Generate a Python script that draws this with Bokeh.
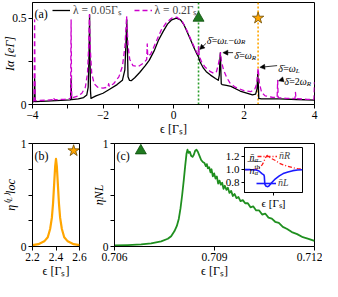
import math
from bokeh.plotting import figure
from bokeh.models import (FixedTicker, Label, Legend, LegendItem, Span, Arrow,
                          NormalHead, GridBox)
from bokeh.embed import file_html
from bokeh.resources import INLINE

FONT = "Liberation Serif"

# ---------------- panel (a): current I_alpha vs epsilon ----------------
eps_black = [-4.00, -3.955, -3.94, -3.925, -3.6, -3.2, -2.92, -2.905, -2.89, -2.7,
             -2.55, -2.46, -2.42, -2.395, -2.38, -2.37, -2.355, -2.34, -2.3, -2.2,
             -2.0, -1.8, -1.6, -1.45, -1.38, -1.34, -1.325, -1.31, -1.29, -1.25,
             -1.2, -1.1, -0.96, -0.8, -0.69, -0.55, -0.43, -0.3, -0.17, -0.05,
             0.08, 0.2, 0.3, 0.45, 0.6, 0.67, 0.71, 0.755, 0.85, 0.93,
             1.05, 1.19, 1.27, 1.30, 1.315, 1.33, 1.34, 1.355, 1.38, 1.5,
             1.63, 1.89, 2.1, 2.24, 2.33, 2.37, 2.39, 2.405, 2.42, 2.49,
             2.7, 3.0, 3.5, 4.0]
I_black = [0.015, 0.017, 0.15, 0.017, 0.02, 0.024, 0.027, 0.15, 0.028, 0.032,
           0.04, 0.055, 0.1, 0.3, 0.52, 0.3, 0.08, 0.035, 0.04, 0.05,
           0.065, 0.09, 0.115, 0.14, 0.2, 0.4, 0.49, 0.35, 0.16, 0.14,
           0.138, 0.155, 0.185, 0.225, 0.255, 0.31, 0.37, 0.42, 0.465, 0.49,
           0.50, 0.49, 0.46, 0.39, 0.32, 0.29, 0.275, 0.246, 0.21, 0.19,
           0.17, 0.15, 0.14, 0.17, 0.25, 0.30, 0.22, 0.12, 0.115, 0.11,
           0.105, 0.078, 0.065, 0.056, 0.06, 0.09, 0.175, 0.12, 0.035, 0.032,
           0.033, 0.032, 0.029, 0.025]

eps_mag = [-4.00, -3.955, -3.94, -3.925, -3.6, -3.42, -3.4, -3.38, -3.1, -2.92,
           -2.905, -2.89, -2.7, -2.6, -2.5, -2.44, -2.41, -2.385, -2.36, -2.32,
           -2.25, -2.15, -2.0, -1.86, -1.84, -1.82, -1.7, -1.55, -1.45, -1.38,
           -1.33, -1.29, -1.24, -1.15, -1.0, -0.85, -0.76, -0.745, -0.73, -0.65,
           -0.5, -0.35, -0.2, -0.05, 0.1, 0.25, 0.4, 0.55, 0.65, 0.70,
           0.715, 0.73, 0.8, 0.9, 1.05, 1.15, 1.22, 1.27, 1.31, 1.335,
           1.36, 1.42, 1.5, 1.6, 1.75, 2.0, 2.2, 2.3, 2.36, 2.4,
           2.44, 2.5, 2.6, 2.8, 2.94, 2.955, 2.97, 3.2, 3.445, 3.46,
           3.475, 3.8, 3.985, 4.0]
I_mag = [0.02, 0.022, 0.49, 0.022, 0.025, 0.028, 0.04, 0.028, 0.03, 0.035,
         0.49, 0.038, 0.05, 0.065, 0.1, 0.18, 0.32, 0.52, 0.32, 0.18,
         0.12, 0.1, 0.095, 0.1, 0.12, 0.105, 0.12, 0.16, 0.22, 0.33,
         0.51, 0.34, 0.26, 0.225, 0.22, 0.24, 0.26, 0.35, 0.28, 0.29,
         0.36, 0.43, 0.475, 0.50, 0.505, 0.48, 0.42, 0.35, 0.305, 0.29,
         0.335, 0.28, 0.245, 0.215, 0.19, 0.18, 0.19, 0.23, 0.27, 0.30,
         0.25, 0.2, 0.16, 0.125, 0.1, 0.08, 0.075, 0.085, 0.12, 0.21,
         0.12, 0.07, 0.05, 0.042, 0.04, 0.14, 0.04, 0.036, 0.034, 0.07,
         0.034, 0.03, 0.03, 0.13]

tri_eps = [0.71]
tri_I = [0.5]
star_eps = [2.4]
star_I = [0.5]
vline_green = 0.71
vline_orange = 2.4

# annotation arrows (start -> end, in data units) and text anchors
arr_x0 = [0.92, 1.69, 2.94, 3.11]
arr_y0 = [0.353, 0.30, 0.225, 0.145]
arr_x1 = [0.74, 1.40, 2.45, 2.98]
arr_y1 = [0.318, 0.30, 0.215, 0.137]
txt_x = [0.94, 1.72, 2.97, 3.14]
txt_y = [0.39, 0.30, 0.225, 0.15]

xt_a = [-4, -2, 0, 2, 4]
xminor_a = [-3, -1, 1, 3]
xlab_a = ["−4", "−2", "0", "2", "4"]
yt_a = [0, 0.5]
yminor_a = [0.25]
ylab_a = ["0", "0.5"]

# ---------------- panel (b): eta_loc^(L) ----------------
eps_b = [2.20, 2.25, 2.30, 2.33, 2.35, 2.365, 2.375, 2.385, 2.393, 2.40,
         2.407, 2.415, 2.425, 2.435, 2.45, 2.47, 2.50, 2.55, 2.60]
eta_b = [0.013, 0.023, 0.05, 0.09, 0.17, 0.28, 0.42, 0.62, 0.78, 0.85,
         0.78, 0.62, 0.42, 0.28, 0.17, 0.09, 0.05, 0.023, 0.013]
star_b_eps = [2.55]
star_b_eta = [0.93]
xt_b = [2.2, 2.4, 2.6]
xlab_b = ["2.2", "2.4", "2.6"]
yt_b = [0, 1]
yminor_b = [0.25, 0.5, 0.75]
ylab_b = ["0", "1"]

# ---------------- panel (c): eta_NL ----------------
eps_c = [0.7060, 0.7064, 0.7068, 0.7071, 0.7074, 0.7076, 0.7077, 0.7078, 0.70787, 0.70793,
         0.70798, 0.70803, 0.70808, 0.70812, 0.70816, 0.70819, 0.70822, 0.70826, 0.70830, 0.70834,
         0.70838, 0.70842, 0.70846, 0.70850, 0.70855, 0.70860, 0.70865, 0.70870, 0.70874, 0.70877,
         0.70880, 0.70884, 0.70888, 0.70891, 0.70895, 0.70899, 0.70903, 0.70907, 0.70911, 0.70915,
         0.70919, 0.70923, 0.70927, 0.70931, 0.70936, 0.70940, 0.70945, 0.70950, 0.70955, 0.70960,
         0.70966, 0.70972, 0.70978, 0.70985, 0.70992, 0.71000, 0.71008, 0.71016, 0.71025, 0.71034,
         0.71043, 0.71052, 0.71062, 0.71072, 0.71082, 0.71093, 0.71105, 0.71118, 0.71132, 0.71148,
         0.71165, 0.71182, 0.71200]
eta_c = [0.010, 0.014, 0.020, 0.030, 0.050, 0.075, 0.10, 0.15, 0.20, 0.27,
         0.37, 0.50, 0.65, 0.78, 0.90, 0.94, 0.91, 0.92, 0.88, 0.87,
         0.89, 0.93, 0.94, 0.92, 0.88, 0.84, 0.82, 0.81, 0.78, 0.80,
         0.76, 0.77, 0.72, 0.75, 0.68, 0.71, 0.66, 0.68, 0.61, 0.64,
         0.60, 0.62, 0.56, 0.59, 0.55, 0.57, 0.52, 0.54, 0.49, 0.51,
         0.47, 0.48, 0.44, 0.45, 0.42, 0.42, 0.38, 0.39, 0.35, 0.35,
         0.31, 0.32, 0.28, 0.27, 0.24, 0.23, 0.19, 0.17, 0.14, 0.12,
         0.09, 0.075, 0.055]
tri_c_eps = [0.70679]
tri_c_eta = [0.93]
xt_c = [0.706, 0.709, 0.712]
xlab_c = ["0.706", "0.709", "0.712"]
yt_c = [0, 1]
yminor_c = [0.25, 0.5, 0.75]
ylab_c = ["0", "1"]

# ---------------- inset: occupation ratios ----------------
eps_in = [0.7060, 0.7066, 0.7072, 0.7075, 0.7078, 0.7080, 0.70805, 0.7081, 0.7082, 0.70835,
          0.7085, 0.7088, 0.7092, 0.7096, 0.7100, 0.7105, 0.7110, 0.7115, 0.7120]
nR = [1.0, 1.0, 1.005, 1.02, 1.07, 1.12, 1.14, 1.16, 1.19, 1.22,
      1.2, 1.17, 1.14, 1.1, 1.075, 1.05, 1.03, 1.015, 1.01]
nL = [1.0, 1.0, 0.995, 0.98, 0.94, 0.92, 0.90, 0.78, 0.75, 0.74,
      0.745, 0.80, 0.86, 0.905, 0.94, 0.965, 0.985, 0.995, 1.0]
xt_in = [0.709]
yt_in = [0.8, 1.0, 1.2]
ylab_in = ["0.8", "1.0", "1.2"]

# axis titles
XTITLE = "ϵ [Γₛ]"
YTITLE_A = "Iα [eΓ]"
YTITLE_B = "η⁽ᴸ⁾loc"
YTITLE_C = "ηNL"

# ---------------- helpers ----------------
CW = {' ': 0.25, '[': 0.333, ']': 0.333, '(': 0.333, ')': 0.333, '.': 0.25,
      '=': 0.564, '−': 0.564, 'Γ': 0.6, 'S': 0.556, 'L': 0.611, 'R': 0.667,
      'N': 0.722, 'I': 0.333, 'e': 0.444, 'n': 0.5, 'l': 0.278, 'o': 0.5,
      'c': 0.444, 't': 0.278, 'h': 0.5, 'α': 0.55, 'δ': 0.5, 'ω': 0.69,
      'η': 0.5, 'ϵ': 0.44, '\u0304': 0.0}


def tw(s, fs):
    return sum(CW.get(ch, 0.5) for ch in s) * fs


def rich(p, x, y, pieces, fs, dx=0.0, dy=0.0):
    cur = 0.0
    for t, k, st, adv in pieces:
        f = fs if k == "n" else fs * 0.7
        shift = {"n": 0.0, "b": -0.22 * fs, "p": 0.4 * fs}[k]
        p.add_layout(Label(x=x, y=y, x_offset=dx + cur, y_offset=dy + shift, text=t,
                           text_font=FONT, text_font_size=f"{f:.1f}px",
                           text_font_style=st, text_color="black",
                           text_baseline="alphabetic", text_align="left"))
        if adv:
            cur += tw(t, f)


def style(p, xt, xmin, xlab, yt, ymin, ylab, fs="11.5px"):
    p.xaxis.ticker = FixedTicker(ticks=xt, minor_ticks=xmin)
    p.yaxis.ticker = FixedTicker(ticks=yt, minor_ticks=ymin)
    p.xaxis.major_label_overrides = dict(zip(xt, xlab))
    p.yaxis.major_label_overrides = dict(zip(yt, ylab))
    for ax in (p.xaxis[0], p.yaxis[0]):
        ax.major_tick_out = 4
        ax.major_tick_in = 0
        ax.minor_tick_out = 4
        ax.minor_tick_in = 0
        ax.major_label_text_font = FONT
        ax.major_label_text_font_size = fs
        ax.major_label_text_color = "black"
        ax.major_label_standoff = 2
        ax.axis_line_color = "black"
        ax.major_tick_line_color = "black"
        ax.minor_tick_line_color = "black"
        ax.axis_label_text_font = FONT
        ax.axis_label_text_font_size = "12px"
        ax.axis_label_text_font_style = "normal"
        ax.axis_label_text_color = "black"
        ax.axis_label_standoff = 0
    p.xgrid.visible = False
    p.ygrid.visible = False
    p.outline_line_color = "black"
    p.outline_line_alpha = 1.0
    p.outline_line_width = 1
    p.background_fill_color = "white"
    p.border_fill_color = None


def make_fig(w, h, xr, yr, left, right, top, bottom):
    p = figure(width=w, height=h, x_range=xr, y_range=yr,
               output_backend="svg", toolbar_location=None)
    p.min_border_left = left
    p.min_border_right = right
    p.min_border_top = top
    p.min_border_bottom = bottom
    return p


GREEN = "#1f8f1f"
ORANGE = "#FFA500"
MAGENTA = "#CC00CC"

# ---------------- layout geometry ----------------
W_ALL = 322
HA, TA, BA, LA, RA = 139, 2, 35, 27, 5
FA_H = HA - TA - BA
HB, TB, BB = 142, 4, 35
WB, LB, RB = 88, 27, 9
WC, LC, RC = 234, 20, 8
IN_W, IN_H, IN_L, IN_R, IN_T, IN_B = 92, 84, 24, 1, 1, 19
IN_DX, IN_DY = 130, 4

# ---------------- panel (a) ----------------
pa = make_fig(W_ALL, HA, (-4, 4), (0, 0.59), LA, RA, TA, BA)
style(pa, xt_a, xminor_a, xlab_a, yt_a, yminor_a, ylab_a)
pa.xaxis.axis_label = XTITLE
pa.yaxis.axis_label = YTITLE_A
pa.yaxis.axis_label_text_font_style = "italic"
pa.yaxis.axis_label_standoff = -8
pa.add_layout(Span(location=vline_green, dimension="height", line_color="#2a9d2a",
                   line_dash="2 2", line_width=1.6, level="underlay"))
pa.add_layout(Span(location=vline_orange, dimension="height", line_color=ORANGE,
                   line_dash="2 2", line_width=1.6, level="underlay"))
r_black = pa.line(eps_black, I_black, line_color="black", line_width=1.3, line_join="round")
r_mag = pa.line(eps_mag, I_mag, line_color=MAGENTA, line_width=1.3, line_dash="5 3",
                line_join="round")
pa.scatter(tri_eps, tri_I, marker="triangle", size=11, fill_color="#1f7a1f",
           line_color="#0d4d0d", line_width=0.8)
pa.scatter(star_eps, star_I, marker="star", size=12, fill_color=ORANGE,
           line_color="#6b4a00", line_width=0.8)
leg = Legend(items=[LegendItem(label="λ = 0.05Γₛ", renderers=[r_black]),
                    LegendItem(label="λ = 0.2Γₛ", renderers=[r_mag])],
             orientation="horizontal", location=(20, FA_H - 15),
             glyph_width=18, glyph_height=12, label_standoff=3, spacing=12,
             padding=0, margin=0, border_line_alpha=0, background_fill_alpha=0,
             label_text_font=FONT, label_text_font_size="11.5px", label_height=12)
pa.add_layout(leg)
rich(pa, -4, 0.59, [("(a)", "n", "normal", True)], 12, dx=2, dy=-11)

ann_pieces = [
    [("δ̄", "n", "italic", True), ("=", "n", "normal", True), ("ω", "n", "italic", True),
     ("L", "b", "italic", True), ("−", "n", "normal", True), ("ω", "n", "italic", True),
     ("R", "b", "italic", True)],
    [("δ̄", "n", "italic", True), ("=", "n", "normal", True), ("ω", "n", "italic", True),
     ("R", "b", "italic", True)],
    [("δ̄", "n", "italic", True), ("=", "n", "normal", True), ("ω", "n", "italic", True),
     ("L", "b", "italic", True)],
    [("δ̄", "n", "italic", True), ("=2", "n", "normal", True), ("ω", "n", "italic", True),
     ("R", "b", "italic", True)],
]
for i in range(4):
    pa.add_layout(Arrow(x_start=arr_x0[i], y_start=arr_y0[i], x_end=arr_x1[i], y_end=arr_y1[i],
                        line_color="black", line_width=0.8,
                        end=NormalHead(size=5, fill_color="black", line_color="black",
                                       line_width=0.5)))
    rich(pa, txt_x[i], txt_y[i], ann_pieces[i], 10, dy=-3)

# ---------------- panel (b) ----------------
pb = make_fig(WB, HB, (2.2, 2.6), (0, 1), LB, RB, TB, BB)
style(pb, xt_b, [], xlab_b, yt_b, yminor_b, ylab_b)
pb.xaxis.axis_label = XTITLE
pb.yaxis.axis_label = YTITLE_B
pb.yaxis.axis_label_text_font_style = "italic"
pb.line(eps_b, eta_b, line_color=ORANGE, line_width=2.2, line_join="round")
pb.scatter(star_b_eps, star_b_eta, marker="star", size=12, fill_color=ORANGE,
           line_color="#6b4a00", line_width=0.8)
rich(pb, 2.2, 1, [("(b)", "n", "normal", True)], 12, dx=2, dy=-12)

# ---------------- panel (c) ----------------
pc = make_fig(WC, HB, (0.706, 0.712), (0, 1), LC, RC, TB, BB)
style(pc, xt_c, [], xlab_c, yt_c, yminor_c, ylab_c)
pc.xaxis.axis_label = XTITLE
pc.yaxis.axis_label = YTITLE_C
pc.yaxis.axis_label_text_font_style = "italic"
pc.yaxis.axis_label_standoff = -6
pc.line(eps_c, eta_c, line_color=GREEN, line_width=1.8, line_join="round")
pc.scatter(tri_c_eps, tri_c_eta, marker="triangle", size=11, fill_color="#1f7a1f",
           line_color="#0d4d0d", line_width=0.8)
rich(pc, 0.706, 1, [("(c)", "n", "normal", True)], 12, dx=2, dy=-12)

# ---------------- inset ----------------
pin = make_fig(IN_W, IN_H, (0.706, 0.712), (0.65, 1.34), IN_L, IN_R, IN_T, IN_B)
style(pin, xt_in, [], [""], yt_in, [], ylab_in, fs="11px")
pin.xaxis.major_tick_out = 3
pin.yaxis.major_tick_out = 3
pin.xaxis.major_label_text_font_size = "0px"
pin.xaxis.major_label_standoff = 0
pin.xaxis.axis_label = XTITLE
pin.xaxis.axis_label_text_font_size = "11px"
pin.xaxis.axis_label_standoff = 1
r_red = pin.line(eps_in, nR, line_color="#FF1a1a", line_width=1.3, line_dash="4 2 1 2")
r_blue = pin.line(eps_in, nL, line_color="#1a1aff", line_width=1.6)
pin.add_layout(Legend(items=[LegendItem(label="n̄R", renderers=[r_red])],
                      location="top_right", glyph_width=20, glyph_height=8,
                      label_standoff=2, padding=0, margin=3, border_line_alpha=0,
                      background_fill_alpha=0, label_text_font=FONT,
                      label_text_font_style="italic",
                      label_text_font_size="10px", label_height=10))
pin.add_layout(Legend(items=[LegendItem(label="n̄L", renderers=[r_blue])],
                      location="bottom_right", glyph_width=20, glyph_height=8,
                      label_standoff=2, padding=0, margin=4, border_line_alpha=0,
                      background_fill_alpha=0, label_text_font=FONT,
                      label_text_font_style="italic",
                      label_text_font_size="10px", label_height=10))
rich(pin, 0.706, 1.34, [("n̄", "n", "italic", True), ("α", "b", "italic", True)],
     10, dx=5, dy=-10)
rich(pin, 0.706, 1.34, [("—", "n", "normal", True)], 14, dx=3, dy=-13)
rich(pin, 0.706, 1.34, [("n", "n", "italic", True), ("α", "b", "italic", False),
                        ("th", "p", "normal", True)], 10, dx=5, dy=-23)
pin.margin = (IN_DY, 0, 0, IN_DX)

grid = GridBox(children=[(pa, 0, 0, 1, 2), (pb, 1, 0), (pc, 1, 1), (pin, 1, 1)])

with open("out.html", "w") as f:
    f.write(file_html(grid, INLINE))
